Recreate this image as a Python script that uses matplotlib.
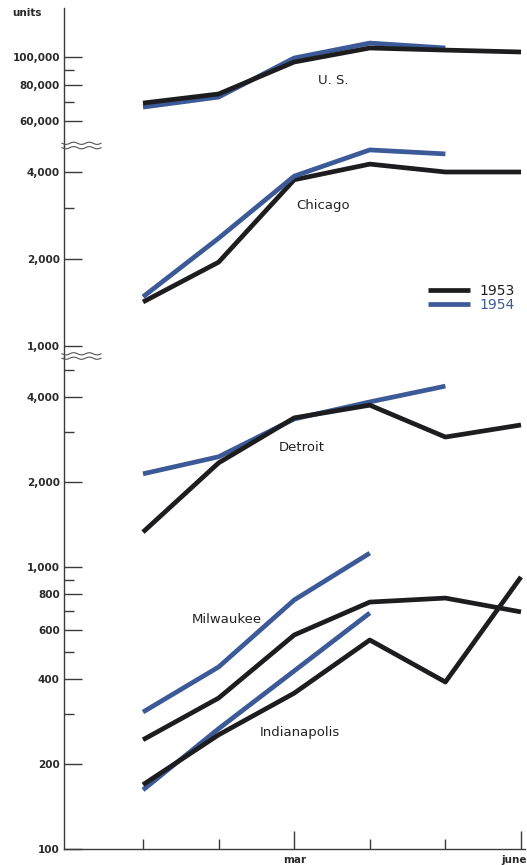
import numpy as np
import matplotlib
matplotlib.use('Agg')
import matplotlib.pyplot as plt
import matplotlib.transforms as mtransforms
from matplotlib.lines import Line2D
from matplotlib.ticker import FixedLocator, FixedFormatter, NullFormatter

months = ["jan", "feb", "mar", "apr", "may", "june"]

# monthly units, 1953 full half-year, 1954 as far as reported
us_1953 = [69200, 74400, 96100, 107500, 105700, 104100]
us_1954 = [67000, 72600, 99200, 111800, 107500]
chicago_1953 = [1420, 1950, 3760, 4260, 4000, 4000]
chicago_1954 = [1480, 2360, 3870, 4770, 4620]
detroit_1953 = [1330, 2340, 3380, 3750, 2890, 3190]
detroit_1954 = [2140, 2460, 3350, 3850, 4380]
milwaukee_1953 = [244, 343, 574, 751, 776, 693]
milwaukee_1954 = [306, 442, 764, 1120]
indianapolis_1953 = [169, 254, 357, 551, 391, 922]
indianapolis_1954 = [162, 267, 428, 687]

BLACK = "#1d1d1f"
BLUE = "#3b5a97"
AXC = "#3a3a3a"
W, H = 527, 865
LW = 3.4

fig = plt.figure(figsize=(W / 100, H / 100), dpi=100)
fig.patch.set_facecolor("white")


def make_axes(top_px, bottom_px):
    ax = fig.add_axes([64 / W, 1 - bottom_px / H, (525 - 64) / W, (bottom_px - top_px) / H])
    ax.set_yscale("log")
    ax.set_xlim(-1.045, 5.053)
    for s in ("top", "right", "bottom"):
        ax.spines[s].set_visible(False)
    ax.spines["left"].set_color(AXC)
    ax.spines["left"].set_linewidth(1.0)
    ax.patch.set_alpha(0)
    ax.tick_params(axis="y", which="major", direction="in", length=13, width=1,
                   color=AXC, pad=3, labelsize=7.5, labelcolor="#2a2a2a")
    ax.tick_params(axis="y", which="minor", direction="in", length=7, width=1, color=AXC)
    ax.tick_params(axis="x", which="both", bottom=False, labelbottom=False)
    return ax


def set_yticks(ax, major, labels, minor):
    ax.yaxis.set_major_locator(FixedLocator(major))
    ax.yaxis.set_major_formatter(FixedFormatter(labels))
    ax.yaxis.set_minor_locator(FixedLocator(minor))
    ax.yaxis.set_minor_formatter(NullFormatter())
    for lab in ax.get_yticklabels():
        lab.set_fontweight("bold")


def pair(ax, y53, y54):
    ax.plot(np.arange(len(y54)), y54, color=BLUE, lw=LW,
            solid_capstyle="butt", solid_joinstyle="round")
    ax.plot(np.arange(len(y53)), y53, color=BLACK, lw=LW,
            solid_capstyle="butt", solid_joinstyle="round")


ax1 = make_axes(8, 146)
ax1.set_ylim(49090, 148000)
set_yticks(ax1, [60000, 80000, 100000], ["60,000", "80,000", "100,000"], [70000, 90000])
pair(ax1, us_1953, us_1954)
ax1.text(2.51, 83200, "U. S.", ha="center", va="center", fontsize=9.5, color="#222")

ax2 = make_axes(146, 357)
ax2.set_ylim(916, 4921)
set_yticks(ax2, [1000, 2000, 4000], ["1,000", "2,000", "4,000"], [3000])
ax2.plot(np.arange(len(chicago_1953)), chicago_1953, color=BLACK, lw=LW,
         solid_capstyle="butt", solid_joinstyle="round", label="1953")
ax2.plot(np.arange(len(chicago_1954)), chicago_1954, color=BLUE, lw=LW,
         solid_capstyle="butt", solid_joinstyle="round", label="1954")
ax2.text(2.38, 3074, "Chicago", ha="center", va="center", fontsize=9.5, color="#222")

ax3 = make_axes(357, 849)
ax3.set_ylim(100, 5556)
set_yticks(ax3, [100, 200, 400, 600, 800, 1000, 2000, 4000],
           ["100", "200", "400", "600", "800", "1,000", "2,000", "4,000"],
           [300, 500, 700, 900, 3000, 5000])
pair(ax3, detroit_1953, detroit_1954)
pair(ax3, milwaukee_1953, milwaukee_1954)
pair(ax3, indianapolis_1953, indianapolis_1954)
ax3.text(2.10, 2664, "Detroit", ha="center", va="center", fontsize=9.5, color="#222")
ax3.text(1.11, 649, "Milwaukee", ha="center", va="center", fontsize=9.5, color="#222")
ax3.text(2.08, 258, "Indianapolis", ha="center", va="center", fontsize=9.5, color="#222")

# month axis along the bottom
ax3.spines["bottom"].set_visible(True)
ax3.spines["bottom"].set_color(AXC)
ax3.spines["bottom"].set_linewidth(1.0)
ax3.set_xticks([2, 5])
ax3.set_xticklabels([months[2], months[5]])
ax3.set_xticks([0, 1, 3, 4], minor=True)
ax3.tick_params(axis="x", which="major", bottom=True, labelbottom=True, direction="in",
                length=13, width=1, color=AXC, pad=4, labelsize=7.5, labelcolor="#2a2a2a")
ax3.tick_params(axis="x", which="minor", bottom=True, direction="in", length=7,
                width=1, color=AXC)
xlabs = ax3.get_xticklabels()
for lab in xlabs:
    lab.set_fontweight("bold")
# keep "june" inside the right edge
xlabs[1].set_transform(xlabs[1].get_transform() +
                       mtransforms.ScaledTranslation(-0.07, 0, fig.dpi_scale_trans))

leg = ax2.legend(loc="upper left", bbox_to_anchor=(428 / W, 1 - 284 / H),
                 bbox_transform=fig.transFigure, frameon=False, fontsize=10,
                 handlelength=3.0, handletextpad=0.7, labelspacing=0.0,
                 borderpad=0, borderaxespad=0)
for txt, c in zip(leg.get_texts(), [BLACK, BLUE]):
    txt.set_color(c)


def wavy_break(y_px, x0=62, x1=101):
    xs = np.linspace(x0, x1, 80)
    for off in (-2.2, 2.2):
        ys = y_px + off + 1.1 * np.sin((xs - x0) / (x1 - x0) * 2 * np.pi * 2.5)
        fig.add_artist(Line2D(xs / W, 1 - ys / H, transform=fig.transFigure,
                              color="#555", lw=0.8))


wavy_break(145.5)
wavy_break(356)

fig.text(12 / W, 1 - 13 / H, "units", ha="left", va="center", fontsize=7.5,
         fontweight="bold", color="#2a2a2a")

fig.savefig("out.png", dpi=100)
